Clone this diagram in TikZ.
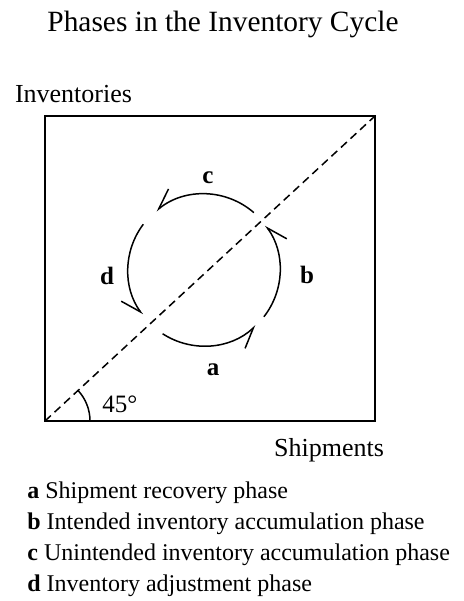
\documentclass[tikz,border=0pt]{standalone}
\usepackage{fontspec}
\setmainfont{Liberation Serif}
\usetikzlibrary{arrows.meta}

\begin{document}
\begin{tikzpicture}[x=0.5pt,y=0.5pt,
    frame/.style={line width=1pt},
    diagline/.style={line width=0.75pt,dash pattern=on 4pt off 2.5pt},
    phase/.style={line width=0.75pt,-{Straight Barb[harpoon,swap,length=10pt,angle'=50]}},
    axislab/.style={font=\fontsize{13}{15}\selectfont,anchor=base},
    phaselab/.style={font=\fontsize{12.5}{15}\selectfont\bfseries,anchor=base},
    legtext/.style={font=\fontsize{12}{14}\selectfont,anchor=base west,inner sep=0pt}]
  \def\rc{76} % radius of the cycle
  \useasboundingbox (-45,-180) rectangle (418,421);
  % --- title ---
  \node[font=\fontsize{14.7}{17}\selectfont,anchor=base] (title) at (178,390) {Phases in the Inventory Cycle};
  % --- frame and 45 degree line ---
  \coordinate (O) at (0,0);
  \coordinate (TR) at (330,305);
  \coordinate (C) at (159,151);
  \draw[frame] (O) rectangle (TR);
  \draw[diagline] (O) -- (TR);
  \draw[line width=0.75pt] (45,0) arc[start angle=0,end angle=42.7,radius=45];
  \node[font=\fontsize{12.5}{15}\selectfont,anchor=base west,inner sep=0pt] (ang) at (57,9) {45°};
  \node[axislab] (inv) at (28.5,319) {Inventories};
  \node[axislab] (ship) at (284,-35) {Shipments};
  % --- the four phases (counterclockwise) ---
  \foreach \sa/\ea in {237/313, 322/396, 49/129, 143/216}{%
    \draw[phase] ([shift={(\sa:\rc)}]C) arc[start angle=\sa,end angle=\ea,radius=\rc];}
  \node[phaselab] (la) at (168,46) {a};
  \node[phaselab] (lb) at (262,138) {b};
  \node[phaselab] (lc) at (163,238) {c};
  \node[phaselab] (ld) at (62,137) {d};
  % --- legend ---
  \foreach \ly/\k/\txt in {-77/a/{Shipment recovery phase}, -108/b/{Intended inventory accumulation phase},
        -139/c/{Unintended inventory accumulation phase}, -170/d/{Inventory adjustment phase}}{%
    \node[legtext] (leg\k) at (-18,\ly) {\textbf{\k} \txt};}
\end{tikzpicture}
\end{document}
